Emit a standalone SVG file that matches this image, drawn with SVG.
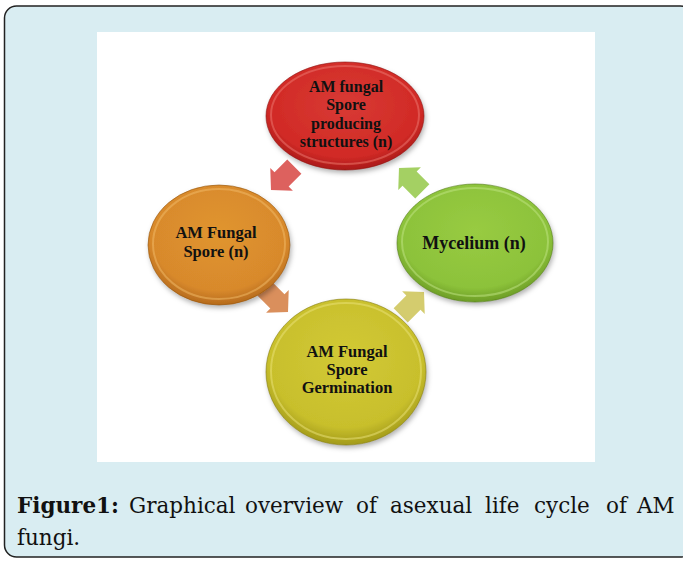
<svg xmlns="http://www.w3.org/2000/svg" width="683" height="561" viewBox="0 0 683 561">
<style>
.node-text{font-family:"Liberation Serif","Times New Roman",serif;font-weight:bold;fill:#111;text-anchor:middle}
.cap{font-family:"DejaVu Serif",serif;font-size:21.5px;fill:#111}
.capb{font-weight:bold}
.rim{fill:none;stroke-width:2;stroke-opacity:0.5}
.edge{fill:none;stroke-width:1;stroke-opacity:0.6}
</style>
<defs>
<filter id="sh" x="-20%" y="-20%" width="140%" height="150%">
<feDropShadow dx="1.5" dy="3" stdDeviation="2.5" flood-color="#000" flood-opacity="0.3"/>
</filter>
<radialGradient id="gRed" cx="50%" cy="40%" r="60%">
<stop offset="0" stop-color="#d83a34"/><stop offset="0.8" stop-color="#d12a26"/><stop offset="1" stop-color="#a91a18"/>
</radialGradient>
<radialGradient id="gOra" cx="50%" cy="40%" r="60%">
<stop offset="0" stop-color="#e0952f"/><stop offset="0.8" stop-color="#d8892c"/><stop offset="1" stop-color="#b56a1c"/>
</radialGradient>
<radialGradient id="gGrn" cx="50%" cy="40%" r="60%">
<stop offset="0" stop-color="#98cb42"/><stop offset="0.8" stop-color="#8cc23a"/><stop offset="1" stop-color="#6c9c26"/>
</radialGradient>
<radialGradient id="gYel" cx="50%" cy="40%" r="60%">
<stop offset="0" stop-color="#d2c935"/><stop offset="0.8" stop-color="#c8bf2c"/><stop offset="1" stop-color="#a29a1a"/>
</radialGradient>
<path id="arr" d="M-16,-10 L2,-10 L2,-16 L17,0 L2,16 L2,10 L-16,10 Z"/>
</defs>

<rect x="4.5" y="6" width="688" height="551" rx="12" ry="12" fill="#d9edf2" stroke="#222" stroke-width="1.5"/>
<rect x="97" y="32" width="498" height="430" fill="#ffffff"/>

<g id="connectors">
<use href="#arr" transform="translate(283,178) rotate(135)" fill="#d9504c" fill-opacity="0.9"/>
<use href="#arr" transform="translate(411,180) rotate(-135)" fill="#9acb52" fill-opacity="0.9"/>
<use href="#arr" transform="translate(276,300) rotate(45)" fill="#d6834a" fill-opacity="0.9"/>
<use href="#arr" transform="translate(412,304) rotate(-45)" fill="#cfc75e" fill-opacity="0.9"/>
</g>

<g id="node-spore-producing">
<ellipse cx="345" cy="116" rx="79" ry="54" fill="url(#gRed)" filter="url(#sh)"/>
<ellipse class="edge" cx="345" cy="116" rx="79" ry="54" stroke="#8e1412"/>
<ellipse class="rim" cx="345" cy="115" rx="74" ry="49" stroke="#ee7a72"/>
<text class="node-text" font-size="16" x="346" y="92">AM fungal</text>
<text class="node-text" font-size="16" x="346" y="110">Spore</text>
<text class="node-text" font-size="16" x="346" y="129">producing</text>
<text class="node-text" font-size="16" x="346" y="147">structures (n)</text>
</g>

<g id="node-spore">
<ellipse cx="219" cy="245" rx="71" ry="60" fill="url(#gOra)" filter="url(#sh)"/>
<ellipse class="edge" cx="219" cy="245" rx="71" ry="60" stroke="#94560f"/>
<ellipse class="rim" cx="219" cy="244" rx="66" ry="55" stroke="#f2bb6a"/>
<text class="node-text" font-size="16.5" x="216" y="238">AM Fungal</text>
<text class="node-text" font-size="16.5" x="216" y="257">Spore (n)</text>
</g>

<g id="node-mycelium">
<ellipse cx="475" cy="243" rx="78" ry="59" fill="url(#gGrn)" filter="url(#sh)"/>
<ellipse class="edge" cx="475" cy="243" rx="78" ry="59" stroke="#557d1a"/>
<ellipse class="rim" cx="475" cy="242" rx="73" ry="54" stroke="#c2e586"/>
<text class="node-text" font-size="18" x="474" y="249">Mycelium (n)</text>
</g>

<g id="node-germination">
<ellipse cx="346" cy="372" rx="80" ry="73" fill="url(#gYel)" filter="url(#sh)"/>
<ellipse class="edge" cx="346" cy="372" rx="80" ry="73" stroke="#857d10"/>
<ellipse class="rim" cx="346" cy="371" rx="75" ry="68" stroke="#ebe37a"/>
<text class="node-text" font-size="16.5" x="347" y="357">AM Fungal</text>
<text class="node-text" font-size="16.5" x="347" y="375">Spore</text>
<text class="node-text" font-size="16.5" x="347" y="393">Germination</text>
</g>

<g id="caption">
<text class="cap capb" x="17" y="513">Figure1:</text>
<text class="cap" x="129" y="513">Graphical</text>
<text class="cap" x="245" y="513">overview</text>
<text class="cap" x="356" y="513">of</text>
<text class="cap" x="390" y="513">asexual</text>
<text class="cap" x="485" y="513">life</text>
<text class="cap" x="534" y="513">cycle</text>
<text class="cap" x="606" y="513">of</text>
<text class="cap" x="637" y="513">AM</text>
<text class="cap" x="17" y="545">fungi.</text>
</g>
</svg>
